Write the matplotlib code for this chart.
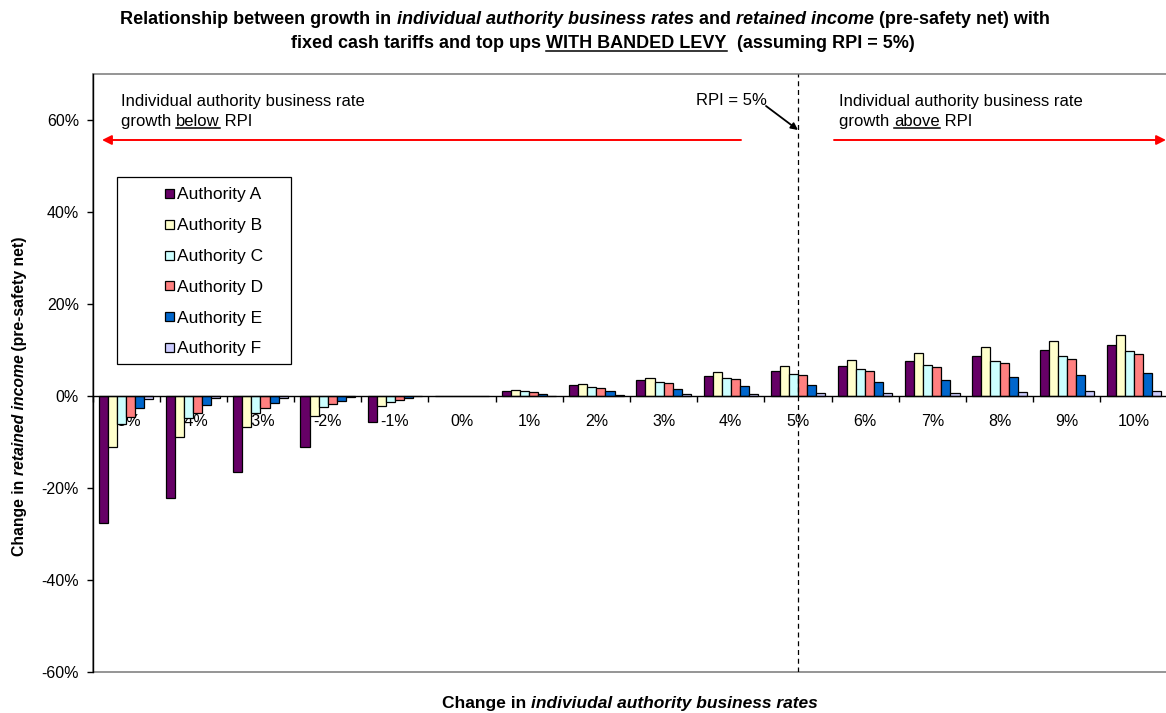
import matplotlib
matplotlib.use("Agg")
import matplotlib.pyplot as plt
import matplotlib.transforms as mtransforms
from matplotlib.font_manager import FontProperties
from matplotlib.lines import Line2D
from matplotlib.patches import Rectangle
import numpy as np

# ---- data -------------------------------------------------------------
categories = ["-5%", "-4%", "-3%", "-2%", "-1%", "0%", "1%", "2%", "3%", "4%",
              "5%", "6%", "7%", "8%", "9%", "10%"]
series_names = ["Authority A", "Authority B", "Authority C",
                "Authority D", "Authority E", "Authority F"]
authority_a = [-27.6, -22.1, -16.6, -11.1, -5.6, 0.0, 1.1, 2.3, 3.4, 4.4, 5.5, 6.6, 7.7, 8.8, 9.9, 11.0]
authority_b = [-11.1, -8.9, -6.7, -4.4, -2.2, 0.0, 1.3, 2.7, 4.0, 5.3, 6.6, 7.9, 9.3, 10.6, 12.0, 13.3]
authority_c = [-6.0, -4.8, -3.6, -2.4, -1.2, 0.0, 1.0, 2.0, 3.0, 3.9, 4.8, 5.8, 6.8, 7.7, 8.7, 9.7]
authority_d = [-4.5, -3.6, -2.7, -1.8, -0.9, 0.0, 0.9, 1.8, 2.8, 3.6, 4.5, 5.4, 6.3, 7.2, 8.1, 9.1]
authority_e = [-2.5, -2.0, -1.5, -1.0, -0.5, 0.0, 0.5, 1.1, 1.6, 2.1, 2.5, 3.0, 3.5, 4.1, 4.5, 5.1]
authority_f = [-0.55, -0.45, -0.35, -0.2, -0.1, 0.0, 0.1, 0.2, 0.35, 0.45, 0.55, 0.65, 0.75, 0.9, 1.0, 1.1]
y_ticks = [-60, -40, -20, 0, 20, 40, 60]
y_tick_labels = ["-60%", "-40%", "-20%", "0%", "20%", "40%", "60%"]
rpi_category = "5%"

series_values = [authority_a, authority_b, authority_c,
                 authority_d, authority_e, authority_f]
series_colors = ["#660066", "#FFFFCC", "#CCFFFF", "#FF8080", "#0066CC", "#CCCCFF"]

FONT = "Liberation Sans"
plt.rcParams["font.family"] = [FONT, "DejaVu Sans"]

W, H = 1166, 713
fig = plt.figure(figsize=(W / 100, H / 100), dpi=100)
fig.patch.set_facecolor("white")
# pixel coordinates measured from the top-left corner of the figure
TOP = mtransforms.Affine2D().scale(1, -1).translate(0, H)

ax = fig.add_axes([92.5 / W, 1 - 672 / H, 1075 / W, (672 - 74) / H])
x = np.arange(len(categories))
n = len(series_values)
bar_w = 0.135
for i, (vals, col, name) in enumerate(zip(series_values, series_colors, series_names)):
    offs = (i - (n - 1) / 2) * bar_w
    ax.bar(x + offs, vals, width=bar_w, color=col, edgecolor="black",
           linewidth=0.9, label=name, zorder=2)

ax.set_xlim(-0.5, len(categories) - 0.5)
ax.set_ylim(-60, 70)

# axes styling
for s in ("top", "right"):
    ax.spines[s].set_visible(False)
ax.spines["bottom"].set_position(("data", 0))
ax.spines["bottom"].set_linewidth(1.0)
ax.spines["bottom"].set_zorder(4)
ax.spines["left"].set_linewidth(1.0)
ax.add_patch(Rectangle((0, 0), 1, 1, transform=ax.transAxes, fill=False,
                       edgecolor="#8c8c8c", linewidth=1.3, clip_on=False, zorder=0.5))

ax.set_yticks(y_ticks)
ax.set_yticklabels(y_tick_labels, fontsize=11.5)
ax.tick_params(axis="y", direction="out", length=4.3, width=1.0, pad=5.5)

ax.set_xticks(x)
ax.set_xticklabels(categories, fontsize=11.5)
ax.set_xticks(np.arange(len(categories) + 1) - 0.5, minor=True)
ax.tick_params(axis="x", which="major", length=0, pad=13)
ax.tick_params(axis="x", which="minor", direction="out", length=4, width=1.0)

# RPI reference line
rpi_x = categories.index(rpi_category)
ax.axvline(rpi_x, color="black", linestyle=(0, (4, 3)), linewidth=0.9, zorder=3)


def px_to_data(px, py):
    return ax.transData.inverted().transform(TOP.transform((px, py)))


# red direction arrows
yl = px_to_data(0, 140)[1]
ax.annotate("", xy=(px_to_data(102, 140)[0], yl), xytext=(px_to_data(741, 140)[0], yl),
            arrowprops=dict(arrowstyle="-|>", color="red", lw=1.4, mutation_scale=14,
                            shrinkA=0, shrinkB=0), annotation_clip=False)
ax.annotate("", xy=(px_to_data(1166, 140)[0], yl), xytext=(px_to_data(834, 140)[0], yl),
            arrowprops=dict(arrowstyle="-|>", color="red", lw=1.4, mutation_scale=14,
                            shrinkA=0, shrinkB=0), annotation_clip=False)

# RPI pointer
p_tail = px_to_data(766, 106)
p_head = (rpi_x, px_to_data(0, 130)[1])
ax.annotate("", xy=p_head, xytext=p_tail,
            arrowprops=dict(arrowstyle="-|>", color="black", lw=1.3, mutation_scale=10,
                            shrinkA=0, shrinkB=0))

fig.canvas.draw()
renderer = fig.canvas.get_renderer()


def run_width(s, fp):
    w1 = renderer.get_text_width_height_descent("x" + s + "x", fp, ismath=False)[0]
    w0 = renderer.get_text_width_height_descent("xx", fp, ismath=False)[0]
    return w1 - w0


def draw_runs(runs, px, py, size, align="center", rotation=0):
    """runs: list of (text, weight, style, underline)."""
    props = [FontProperties(family=FONT, size=size, weight=r[1], style=r[2]) for r in runs]
    widths = [run_width(r[0], fp) for r, fp in zip(runs, props)]
    total = sum(widths)
    start = -total / 2 if align == "center" else 0
    pos = start
    for (s, wt, st, ul), fp, w in zip(runs, props, widths):
        if rotation == 0:
            fig.text(px + pos, py, s, transform=TOP, ha="left", va="baseline",
                     fontproperties=fp)
            if ul:
                fig.add_artist(Line2D([px + pos, px + pos + w], [py + 2.4, py + 2.4],
                                      transform=TOP, color="black", lw=1.1))
        else:
            fig.text(px, py - pos, s, transform=TOP, ha="left", va="baseline",
                     rotation=90, rotation_mode="anchor", fontproperties=fp)
        pos += w


# title
draw_runs([("Relationship between growth in ", "bold", "normal", False),
           ("individual authority business rates", "bold", "italic", False),
           (" and ", "bold", "normal", False),
           ("retained income", "bold", "italic", False),
           (" (pre-safety net) with", "bold", "normal", False)],
          585, 24.5, 13)
draw_runs([("fixed cash tariffs and top ups ", "bold", "normal", False),
           ("WITH BANDED LEVY", "bold", "normal", True),
           ("  (assuming RPI = 5%)", "bold", "normal", False)],
          603, 48.5, 13)

# axis titles
draw_runs([("Change in ", "bold", "normal", False),
           ("indiviudal authority business rates", "bold", "italic", False)],
          630, 708, 12.5)
draw_runs([("Change in ", "bold", "normal", False),
           ("retained income", "bold", "italic", False),
           (" (pre-safety net)", "bold", "normal", False)],
          24, 396, 11.3, rotation=90)

# in-plot notes
fig.text(121, 106, "Individual authority business rate", transform=TOP,
         ha="left", va="baseline", fontsize=12)
draw_runs([("growth ", "normal", "normal", False), ("below", "normal", "normal", True),
           (" RPI", "normal", "normal", False)], 121, 126, 12, align="left")
fig.text(839, 106, "Individual authority business rate", transform=TOP,
         ha="left", va="baseline", fontsize=12)
draw_runs([("growth ", "normal", "normal", False), ("above", "normal", "normal", True),
           (" RPI", "normal", "normal", False)], 839, 126, 12, align="left")
fig.text(696, 105, "RPI = 5%", transform=TOP, ha="left", va="baseline", fontsize=12)

# legend box
lx0, ly0, lx1, ly1 = 117, 177, 291, 364
fig.add_artist(Rectangle((lx0, ly1), lx1 - lx0, ly0 - ly1, transform=TOP,
                         facecolor="white", edgecolor="black", linewidth=0.9, zorder=5))
for i, (name, col) in enumerate(zip(series_names, series_colors)):
    cy = 193.5 + i * 30.8
    fig.add_artist(Rectangle((165, cy + 4.5), 9, -9, transform=TOP, facecolor=col,
                             edgecolor="black", linewidth=0.9, zorder=6))
    fig.text(177, cy, name, transform=TOP, ha="left", va="center_baseline",
             fontsize=12.5, zorder=6)

fig.savefig("out.png", dpi=100, facecolor="white")
